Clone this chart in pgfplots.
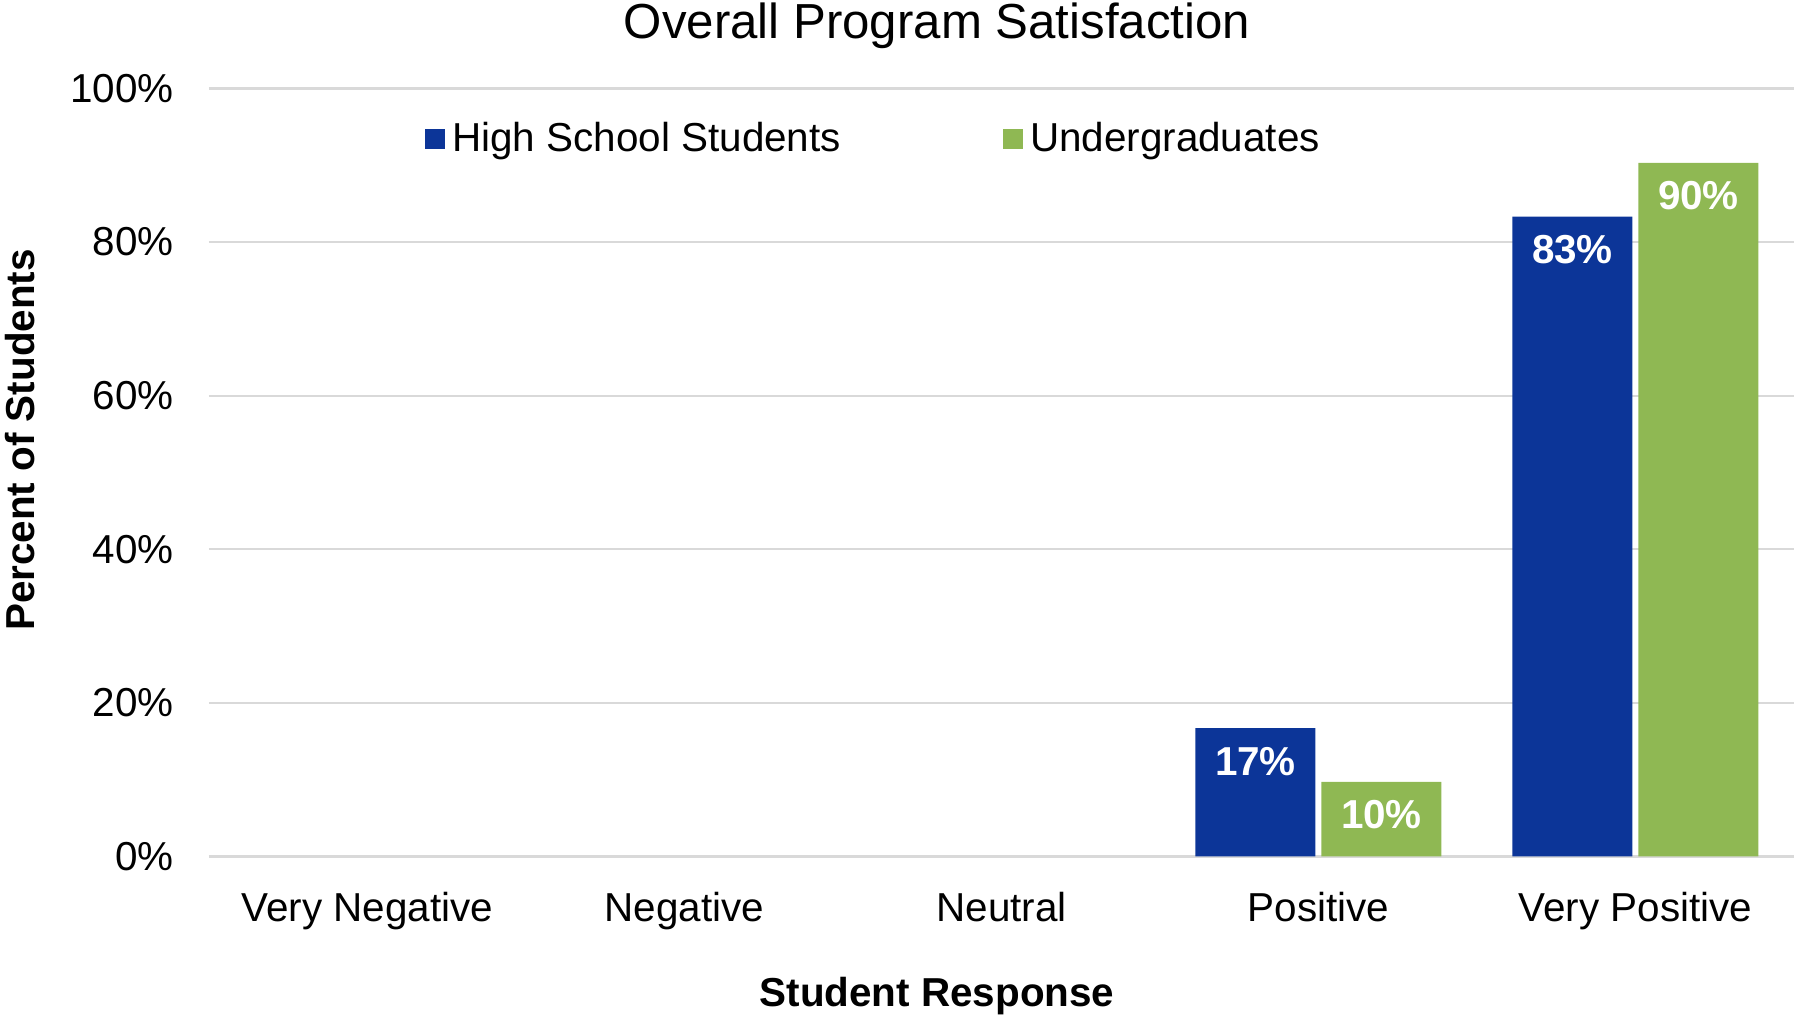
\documentclass[border=0pt]{standalone}
\usepackage{fontspec}
\setmainfont{Liberation Sans}
\usepackage{pgfplots}
\pgfplotsset{compat=1.18}

\definecolor{hsblue}{HTML}{0C3598}
\definecolor{ugreen}{HTML}{8FB853}
\definecolor{gridgray}{HTML}{D9D9D9}

\newcommand{\lbl}{\fontsize{11.5}{13}\selectfont}

\begin{document}
\begin{tikzpicture}
% fixed page frame, same proportions as the reference
\path[use as bounding box] (-2.09,-1.665) rectangle (15.91,8.565);

\begin{axis}[
  at={(0,0)}, anchor=south west,
  scale only axis,
  width=15.85cm, height=7.68cm,
  ybar=0.06cm,
  bar width=1.2cm,
  xmin=-0.5, xmax=4.5,
  ymin=0, ymax=100,
  xtick={0,1,2,3,4},
  xticklabels={Very Negative, Negative, Neutral, Positive, Very Positive},
  ytick={0,20,40,60,80,100},
  yticklabels={0\%,20\%,40\%,60\%,80\%,100\%},
  major tick length=0pt,
  axis line style={draw=none},
  ymajorgrids,
  grid style={draw=gridgray, line width=0.6pt},
  tick label style={font=\lbl, text=black},
  xticklabel style={anchor=base, yshift=-0.655cm},
  yticklabel style={xshift=-0.23cm},
  point meta=explicit symbolic,
  nodes near coords,
  every node near coord/.append style={
    anchor=center, yshift=-0.33cm,
    font=\lbl\bfseries, text=white},
  legend style={
    at={(axis description cs:0.136,0.934)}, anchor=west,
    draw=none, fill=none, inner sep=0pt,
    font=\lbl, legend columns=2,
    /tikz/every even column/.append style={column sep=1.55cm}},
  legend image code/.code={
    \fill[#1] (0cm,-0.1cm) rectangle (0.2cm,0.1cm);},
]
\addplot[fill=hsblue, draw=none] coordinates {
  (3,16.7) [17\%]
  (4,83.3) [83\%]
};
\addlegendentry{High School Students}
\addplot[fill=ugreen, draw=none] coordinates {
  (3,9.7)  [10\%]
  (4,90.3) [90\%]
};
\addlegendentry{Undergraduates}
\end{axis}

\node[font=\fontsize{14}{16}\selectfont] at (7.28,8.31) {Overall Program Satisfaction};
\node[font=\lbl\bfseries] at (7.28,-1.40) {Student Response};
\node[font=\lbl\bfseries, rotate=90] at (-1.89,4.165) {Percent of Students};
\end{tikzpicture}
\end{document}
